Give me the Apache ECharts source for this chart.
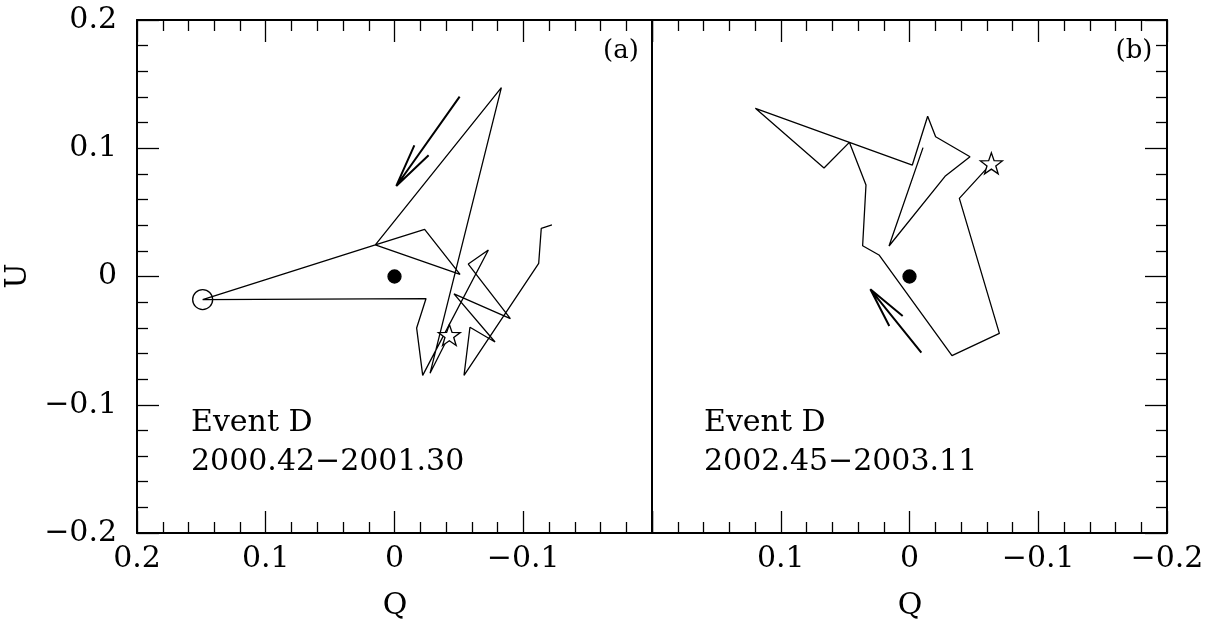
<!DOCTYPE html>
<html><head><meta charset="utf-8">
<script src="https://cdn.jsdelivr.net/npm/echarts@6/dist/echarts.min.js"></script>
<style>html,body{margin:0;padding:0;background:#fff}#c{width:1214px;height:624px}</style>
</head><body><div id="c"></div>
<script>
// ---- data (Q, U) ----
// Panel (a): Event D 2000.42-2001.30
const qA = [-0.0426, -0.0276, -0.0830, 0.0149, -0.0234, -0.0509, 0.0149, 0.1490, -0.0245, -0.0172, -0.0219, -0.0729, -0.0573, -0.0900, -0.0462, -0.0781, -0.0586, -0.0540, -0.1120, -0.1140, -0.1223];
const uA = [-0.0456, -0.0755, 0.1472, 0.0246, 0.0368, 0.0017, 0.0246, -0.0180, -0.0172, -0.0402, -0.0771, 0.0207, 0.0097, -0.0329, -0.0136, -0.0511, -0.0396, -0.0771, 0.0103, 0.0376, 0.0402];
// Panel (b): Event D 2002.45-2003.11
const qB = [-0.0636, -0.0387, -0.0698, -0.0330, 0.0237, 0.0364, 0.0338, 0.0467, 0.0664, 0.1197, -0.0022, -0.0141, -0.0203, -0.0470, -0.0276, 0.0159, -0.0105];
const uB = [0.0882, 0.0609, -0.0443, -0.0617, 0.0168, 0.0240, 0.0713, 0.1046, 0.0846, 0.1311, 0.0869, 0.1249, 0.1090, 0.0934, 0.0781, 0.0238, 0.1005];
// direction arrows: tail, tip, barb1, tip, barb2
const arrowAQ = [-0.0506, -0.0014, -0.0154, -0.0014, -0.0265];
const arrowAU = [0.1402, 0.0706, 0.1023, 0.0706, 0.0945];
const arrowBQ = [-0.0092, 0.0304, 0.0053, 0.0304, 0.0157];
const arrowBU = [-0.0594, -0.0100, -0.0308, -0.0100, -0.0386];
// markers
const circleA = [0.1490, -0.0180];
const starA = [-0.0426, -0.0456];
const starB = [-0.0636, 0.0882];
const origin = [0, 0];
// ticks & labels
const tickValues = [0.2, 0.1, 0, -0.1, -0.2];
const qLabelsA = ['0.2', '0.1', '0', '\u22120.1', ''];
const qLabelsB = ['', '0.1', '0', '\u22120.1', '\u22120.2'];
const uLabels = ['0.2', '0.1', '0', '\u22120.1', '\u22120.2'];
const panelTags = ['(a)', '(b)'];
const eventName = 'Event D';
const periods = ['2000.42\u22122001.30', '2002.45\u22122003.11'];
const axisNames = { x: 'Q', y: 'U' };

function zip(a, b) { return a.map((v, i) => [v, b[i]]); }
function labeler(labs) {
  return v => { const i = tickValues.findIndex(t => Math.abs(t - v) < 1e-6); return i < 0 ? '' : labs[i]; };
}
// five-point star symbol
function starPath() {
  let d = '';
  for (let k = 0; k < 10; k++) {
    const a = (-90 + 36 * k) * Math.PI / 180, r = k % 2 ? 0.40 : 1;
    d += (k ? 'L' : 'M') + (r * Math.cos(a) * 100).toFixed(2) + ',' + (r * Math.sin(a) * 100).toFixed(2);
  }
  return 'path://' + d + 'Z';
}
const FONT = 'DejaVu Serif';
const lineBlack = { color: '#000', width: 2 };

function xAx(grid, pos, labs) {
  return {
    type: 'value', gridIndex: grid, position: pos, min: -0.2, max: 0.2, interval: 0.1, inverse: true,
    axisLine: { show: true, onZero: false, lineStyle: lineBlack },
    axisTick: { show: true, inside: true, length: 22, lineStyle: { color: '#000', width: 1.3 } },
    minorTick: { show: true, splitNumber: 5, length: 11, lineStyle: { color: '#000', width: 1.3 } },
    splitLine: { show: false }, minorSplitLine: { show: false },
    axisLabel: labs ? { show: true, formatter: labeler(labs), fontFamily: FONT, fontSize: 30, color: '#000', margin: 11, showMinLabel: true, showMaxLabel: true, hideOverlap: false } : { show: false }
  };
}
function yAx(grid, pos, ticks, labs) {
  return {
    type: 'value', gridIndex: grid, position: pos, min: -0.2, max: 0.2, interval: 0.1,
    axisLine: { show: true, onZero: false, lineStyle: lineBlack },
    axisTick: { show: ticks, inside: true, length: 22, lineStyle: { color: '#000', width: 1.3 } },
    minorTick: { show: ticks, splitNumber: 5, length: 11, lineStyle: { color: '#000', width: 1.3 } },
    splitLine: { show: false }, minorSplitLine: { show: false },
    axisLabel: labs ? { show: true, formatter: labeler(labs), fontFamily: FONT, fontSize: 30, color: '#000', margin: 20, showMinLabel: true, showMaxLabel: true, hideOverlap: false } : { show: false }
  };
}
function pathSeries(xi, yi, data, w) {
  return { type: 'line', xAxisIndex: xi, yAxisIndex: yi, data: data, symbol: 'none', z: 3,
    lineStyle: { color: '#000', width: w }, silent: true };
}
function markSeries(xi, yi, data, symbol, size, fill) {
  return { type: 'scatter', xAxisIndex: xi, yAxisIndex: yi, data: [data], symbol: symbol, symbolSize: size, z: 5,
    itemStyle: { color: fill, borderColor: '#000', borderWidth: 1.3, opacity: 1 }, silent: true };
}
function txt(x, y, s, size, align, rot) {
  return { type: 'text', x: x, y: y, rotation: rot || 0, z: 10,
    style: { text: s, fontFamily: FONT, fontSize: size, fill: '#000', align: align || 'left', verticalAlign: 'middle' } };
}

const chart = echarts.init(document.getElementById('c'), null, { renderer: 'canvas' });
chart.setOption({
  animation: false,
  backgroundColor: '#fff',
  grid: [
    { left: 137, top: 20, width: 515, height: 513 },
    { left: 652, top: 20, width: 515, height: 513 }
  ],
  xAxis: [xAx(0, 'bottom', qLabelsA), xAx(1, 'bottom', qLabelsB), xAx(0, 'top', null), xAx(1, 'top', null)],
  yAxis: [yAx(0, 'left', true, uLabels), yAx(0, 'right', false, null), yAx(1, 'left', false, null), yAx(1, 'right', true, null)],
  series: [
    pathSeries(0, 0, zip(qA, uA), 1.3),
    pathSeries(0, 0, zip(arrowAQ, arrowAU), 2),
    pathSeries(1, 2, zip(qB, uB), 1.3),
    pathSeries(1, 2, zip(arrowBQ, arrowBU), 2),
    markSeries(0, 0, circleA, 'circle', 20, 'rgba(0,0,0,0)'),
    markSeries(0, 0, origin, 'circle', 13, '#000'),
    markSeries(0, 0, starA, starPath(), [22, 21], '#fff'),
    markSeries(1, 2, origin, 'circle', 13, '#000'),
    markSeries(1, 2, starB, starPath(), [22, 21], '#fff')
  ],
  graphic: [
    txt(18, 276, axisNames.y, 30, 'center', Math.PI / 2),
    txt(395, 606, axisNames.x, 30, 'center'),
    txt(910, 606, axisNames.x, 30, 'center'),
    txt(621, 51, panelTags[0], 26, 'center'),
    txt(1134, 51, panelTags[1], 26, 'center'),
    txt(191, 423, eventName, 30, 'left'),
    txt(191, 462, periods[0], 30, 'left'),
    txt(704, 423, eventName, 30, 'left'),
    txt(704, 462, periods[1], 30, 'left')
  ]
});
</script>
</body></html>
